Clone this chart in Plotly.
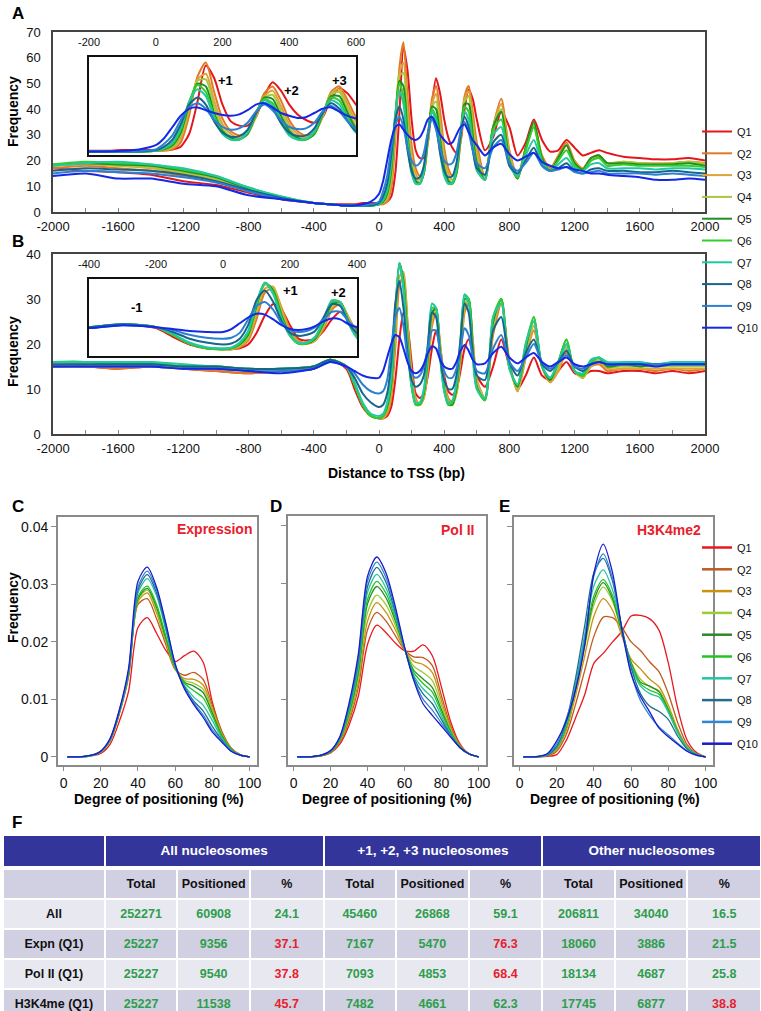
import numpy as np
import plotly.graph_objects as go

W, H = 761, 1011

# ---------------- data: panels A / B (distance to TSS) ----------------
QUANT = ['Q1', 'Q2', 'Q3', 'Q4', 'Q5', 'Q6', 'Q7', 'Q8', 'Q9', 'Q10']

X_TSS = [-2000, -1800, -1600, -1400, -1200, -1000, -800, -600, -400,
         -300, -200, -150, -100, -50, 0,
         25, 50, 75, 100, 125, 150, 175, 200,
         225, 250, 275, 300, 325, 350, 375, 400,
         425, 450, 475, 500, 525, 550, 575, 600,
         650, 700, 750, 800, 850, 900, 950, 1000,
         1050, 1100, 1150, 1200, 1250, 1300, 1350, 1400,
         1500, 1600, 1700, 1800, 1900, 2000]

A_Q1 = [17, 16, 15.5, 14.5, 12, 10.5, 7.5, 5, 3.5,
        3, 3, 3, 3.5, 3.5, 3.5,
        3.5, 4, 6, 15, 38, 64, 55, 36,
        24, 21, 21, 27, 42, 52, 46, 36,
        29, 25, 23, 27, 40, 47.5, 44, 36,
        24, 29, 39, 33, 22, 27, 36, 28,
        23.5, 24, 28, 25, 22, 23, 24, 23,
        21.5, 21, 20.5, 20.5, 21, 20]
A_Q2 = [17, 18, 17, 16, 14, 12, 8, 5.5, 3.5,
        3, 2.5, 2.5, 2.5, 2.5, 3,
        3, 4, 9, 28, 56, 66, 45, 26,
        17, 14, 16, 28, 44, 49, 39, 25,
        17, 14, 16, 28, 45, 49, 39, 27,
        14, 33, 44, 24, 14, 25, 34, 22,
        17, 22, 27, 20, 17, 21, 22, 19,
        19, 19, 18.5, 19, 19.5, 19]
A_Q3 = [18, 18.5, 18, 17, 15, 12.5, 8.5, 5.5, 3.5,
        3, 2.5, 2.5, 2.5, 2.5, 3,
        3.5, 5, 12, 32, 54, 58, 39, 22,
        15, 12.5, 15, 27, 42, 46, 35, 22,
        15, 12.5, 15, 27, 44, 47, 36, 24,
        13, 33, 42, 23, 13.5, 24, 33, 21,
        16.5, 21, 26, 19.5, 17, 20, 21.5, 19,
        19.5, 19, 19, 19, 19.5, 19]
A_Q4 = [18, 19, 18, 17.5, 15.5, 13, 9, 5.5, 3.5,
        3, 2.5, 2.5, 2.5, 2.5, 3,
        4, 6, 14, 34, 53, 54, 35, 19,
        13, 11.5, 15, 28, 41, 43, 32, 19,
        13, 11.5, 15, 28, 43, 45, 33, 21,
        12.5, 33, 40, 21, 13, 25, 34, 21,
        16, 21, 26, 19, 16.5, 20, 21, 19,
        19.5, 19, 18.5, 19, 19.5, 18.5]
A_Q5 = [18.5, 19, 18.5, 18, 16, 13.5, 9, 5.5, 3.5,
        3, 2.5, 2.5, 2.5, 2.5, 3,
        4, 7, 16, 36, 51, 49, 30, 17,
        12, 11, 15, 29, 41, 40, 28, 17,
        12, 11, 15, 29, 42, 42, 30, 19,
        12.5, 33, 39, 20, 13, 25, 35, 21,
        16, 21, 26, 19, 16.5, 21, 22, 19,
        19, 18.5, 18.5, 18.5, 19, 18]
A_Q6 = [18.5, 19.5, 19, 18.5, 16.5, 14, 9.5, 6, 3.5,
        3, 2.5, 2.5, 2.5, 2.5, 3,
        4.5, 8, 18, 38, 50, 45, 28, 16,
        11, 11, 16, 30, 40, 37, 25, 15,
        11, 11, 16, 30, 41, 39, 27, 17,
        12.5, 32, 36, 19, 13.5, 24, 33, 20,
        16, 20, 24, 18, 16, 20, 21, 18,
        18.5, 18, 18, 18, 18, 17.5]
A_Q7 = [18, 19, 19.5, 18.5, 17, 14, 9.5, 6, 3.5,
        3, 2.5, 2.5, 2.5, 2.5, 3,
        5, 9, 20, 38, 47, 42, 26, 15,
        11, 11, 16, 30, 39, 35, 23, 14,
        11, 11.5, 17, 30, 39, 36, 25, 16,
        12.5, 30, 33, 18, 14, 22, 28, 19,
        16, 18.5, 21, 17, 16, 18.5, 19, 17,
        17, 17, 16.5, 17, 17, 16.5]
A_Q8 = [16, 17, 16.5, 16, 14.5, 12, 8.5, 5.5, 3.5,
        3, 2.5, 2.5, 2.5, 2.5, 3.5,
        6, 11, 22, 36, 41, 36, 24, 16,
        13, 13.5, 18, 30, 37, 33, 23, 16,
        13.5, 14, 19, 30, 37, 33, 24, 17,
        14.5, 27, 30, 18, 15, 20, 25, 18,
        16, 17, 19, 16, 15, 16.5, 17, 16,
        16, 15.5, 15.5, 16, 15.5, 15]
A_Q9 = [15, 16, 15.5, 15, 13.5, 11.5, 8, 5, 3.5,
        3, 2.5, 2.5, 2.5, 3, 4,
        8, 14, 25, 34, 37, 33, 25, 20,
        18, 19, 23, 31, 36, 32, 25, 20,
        18.5, 19, 23, 31, 35, 31, 24, 19,
        17, 25, 28, 19, 16, 19, 23, 18,
        16, 16.5, 17.5, 15.5, 15, 15.5, 16, 15,
        15, 15, 14.5, 15, 14.5, 14]
A_Q10 = [14, 15, 13, 13, 11, 10, 6.5, 5, 3.5,
         3, 2.5, 2.5, 3, 4, 7,
         12, 20, 28, 33, 34, 32, 30, 28.5,
         28, 29, 32, 36, 37, 34, 30, 28,
         26.5, 27, 30, 33, 34, 31, 28, 26,
         22, 25, 26.5, 22.5, 20, 21.5, 23, 19.5,
         18, 17, 17.5, 16.5, 16, 15, 15, 14.5,
         14, 13.5, 12.5, 12.5, 13, 12.5]

B_Q1 = [15, 15, 14.5, 15, 14.5, 14, 13.5, 14, 14.5,
        16.5, 14.5, 10, 6, 4, 3.5,
        3.5, 4, 6, 12, 21, 27, 24, 16,
        9, 8, 9, 13, 19, 23, 19, 13,
        9.5, 8.7, 10, 14, 19, 21, 18, 13,
        10.5, 15, 21, 15, 10, 13, 17, 13,
        12, 14, 16, 13.5, 13, 14, 14, 13.5,
        14, 14, 13.5, 14, 13.5, 14]
B_Q2 = [15, 15, 14.5, 15, 14.5, 14, 13.5, 14, 14.5,
        16.5, 15, 11, 6.5, 4, 3.5,
        3.5, 4.5, 8, 19, 33, 35, 25, 14,
        8, 6.5, 8, 14, 24, 27, 20, 12,
        8, 7, 9, 16, 27, 29, 21, 12,
        8, 22, 29, 16, 9.5, 17, 23, 15,
        11.5, 14, 18, 14, 12.5, 15, 15.5, 14,
        14.5, 14.5, 14, 14.5, 14, 14.5]
B_Q3 = [15.5, 15, 15, 15, 15, 14.5, 14, 14, 14.5,
        16.5, 15, 11, 6.5, 4, 3.5,
        3.5, 5, 9, 22, 35, 36, 24, 13,
        7.5, 6.5, 8, 15, 25, 28, 20, 11.5,
        7.5, 6.5, 9, 17, 28, 30, 21, 12,
        8, 23, 30, 16, 9.5, 17, 24, 15,
        11.5, 14, 19, 14, 12.5, 15, 16, 14.5,
        14.5, 14.5, 14.5, 14.5, 14.5, 14.5]
B_Q4 = [16, 15.5, 15, 15.5, 15, 15, 14, 14.5, 15,
        16.5, 15, 11, 6.5, 4, 3.5,
        4, 5.5, 10, 24, 37, 35, 22, 12,
        7, 6.5, 8.5, 16, 26, 28, 19, 10.5,
        7, 6.5, 9.5, 18, 29, 30, 20, 11,
        8, 24, 30, 15, 10, 18, 25, 15,
        12, 15, 19.5, 14, 12.5, 15.5, 16.5, 15,
        15, 15, 15, 15, 15, 15]
B_Q5 = [16, 16, 15.5, 15.5, 15, 15, 14.5, 14.5, 15,
        16.5, 15, 11, 6.5, 4, 3.5,
        4, 6, 11, 26, 38, 34, 21, 11,
        6.5, 6.5, 9, 17, 27, 28, 18, 10,
        6.5, 6.5, 10, 19, 30, 30, 19, 10.5,
        7.5, 25, 30, 15, 10.5, 19, 26, 15,
        12, 16, 21, 14, 13, 16, 17, 15,
        15.5, 15, 15.5, 15.5, 15.5, 15.5]
B_Q6 = [16, 16, 15.5, 16, 15, 15, 14.5, 14.5, 15,
        16.5, 15, 11, 6.5, 4, 3.5,
        4, 6.5, 12, 27, 38, 33, 20, 10.5,
        6.5, 6.5, 9.5, 18, 28, 28, 17, 9.5,
        6.5, 7, 11, 20, 31, 30, 18, 10,
        7.5, 26, 30, 14.5, 11, 20, 26, 15,
        12.5, 16, 21, 14, 13, 16, 17, 15.5,
        15.5, 15.5, 15.5, 15.5, 15.5, 15.5]
B_Q7 = [16, 16, 16, 16, 15.5, 15, 14.5, 14.5, 15,
        16.5, 15, 11.5, 7, 4.5, 4,
        4.5, 7, 13, 28, 38, 32, 19, 10.5,
        7, 7, 10, 19, 29, 28, 17, 9.5,
        7, 7.5, 11.5, 21, 31, 29, 17, 10,
        8, 26, 29, 14.5, 11, 20, 25, 15,
        12.5, 16, 20, 14, 13.5, 16.5, 17, 16,
        16, 16, 15.5, 16, 16, 16]
B_Q8 = [15.5, 15.5, 15.5, 15.5, 15, 15, 14.5, 14.5, 15,
        16.5, 15, 12.5, 9, 7, 6,
        6.5, 9, 16, 29, 34, 28, 18, 12,
        10.5, 11, 13, 20, 27, 26, 17, 12,
        10, 10, 13, 21, 29, 27, 18, 13,
        12, 23, 26, 16, 13, 18, 21, 15.5,
        14, 16, 18.5, 15, 14, 15.5, 16, 15.5,
        15.5, 15.5, 15.5, 15.5, 15.5, 15.5]
B_Q9 = [15, 15, 15, 15, 14.5, 14.5, 14, 14, 14.5,
        16, 15, 13.5, 11, 9.5, 9,
        9.5, 12, 19, 26, 28, 24, 17, 13.5,
        12.5, 13, 15, 19, 23, 23, 18, 14,
        12.5, 12.5, 14.5, 19, 23.5, 22, 17, 14,
        13.5, 19, 22, 16, 14, 17, 20, 16,
        14.5, 16, 17.5, 15, 14.5, 15.5, 16, 15.5,
        15.5, 15.5, 15.5, 15.5, 15.5, 15.5]
B_Q10 = [15, 15, 15, 15, 14.5, 14.5, 14, 13.5, 14.5,
         16, 15, 14, 13, 12.5, 12.5,
         14, 17, 20, 22, 21.5, 19, 16, 14,
         13.5, 14, 15.5, 18, 19.5, 19, 16.5, 15,
         14.5, 14.5, 16, 18.5, 19.8, 18.5, 16.5, 15.5,
         15.7, 18, 19.4, 17, 15.7, 17, 18, 16,
         15, 16, 17, 15.5, 15, 15.5, 16, 15.5,
         15.5, 15.5, 15, 15.5, 15.5, 15.5]

A_SERIES = [A_Q1, A_Q2, A_Q3, A_Q4, A_Q5, A_Q6, A_Q7, A_Q8, A_Q9, A_Q10]
B_SERIES = [B_Q1, B_Q2, B_Q3, B_Q4, B_Q5, B_Q6, B_Q7, B_Q8, B_Q9, B_Q10]

# ---------------- data: panels C / D / E (degree of positioning) ----------------
# frequency values in units of 1e-3
X_POS = [2, 10, 15, 20, 25, 30, 35, 40, 45, 50, 55, 60, 65, 70, 75, 80, 85, 90, 95, 100]

C_Q1 = [0, 0.05, 0.2, 0.6, 2.2, 6.2, 11.5, 22.5, 24.2, 21.5, 18.5, 16.6, 17.6, 18.4, 16.5, 9.5, 4.4, 1.5, 0.35, 0]
C_Q2 = [0, 0.05, 0.25, 0.9, 2.8, 7.5, 14, 26.5, 27.5, 24, 19.5, 15.2, 14.2, 14.7, 13.5, 9.0, 4.5, 1.6, 0.4, 0]
C_Q3 = [0, 0.05, 0.25, 0.9, 2.8, 7.6, 14.2, 27, 28.5, 25, 20, 15.3, 13.6, 13.5, 12.5, 8.4, 4.2, 1.5, 0.35, 0]
C_Q4 = [0, 0.05, 0.25, 0.9, 2.9, 7.7, 14.4, 27.3, 29, 25.5, 20.3, 15.4, 13.3, 12.8, 11.8, 8.0, 4.0, 1.4, 0.3, 0]
C_Q5 = [0, 0.05, 0.25, 0.9, 2.9, 7.7, 14.5, 27.5, 29.3, 26, 20.6, 15.5, 13.0, 12.3, 11.2, 7.6, 3.8, 1.4, 0.3, 0]
C_Q6 = [0, 0.05, 0.25, 0.95, 3, 7.8, 14.6, 27.8, 29.7, 26.5, 21, 15.6, 12.8, 11.5, 10.3, 7.1, 3.6, 1.3, 0.3, 0]
C_Q7 = [0, 0.05, 0.25, 0.95, 3, 7.9, 14.8, 28.5, 31, 28, 22, 15.8, 12.4, 10.4, 9.0, 6.3, 3.3, 1.2, 0.3, 0]
C_Q8 = [0, 0.05, 0.3, 1, 3.1, 8, 15, 29, 31.7, 28.5, 22.5, 15.9, 12.2, 9.7, 8.0, 5.3, 3.0, 1.1, 0.3, 0]
C_Q9 = [0, 0.05, 0.3, 1, 3.1, 8, 15, 29.5, 32.3, 29, 23, 16.0, 12.0, 9.4, 7.3, 4.7, 2.8, 1.1, 0.3, 0]
C_Q10 = [0, 0.05, 0.3, 1, 3.2, 8.2, 15.5, 30.5, 33, 29.5, 23.2, 16.2, 11.8, 9.1, 6.9, 4.3, 2.6, 1.0, 0.3, 0]

D_Q1 = [0, 0.05, 0.2, 0.7, 2.2, 5.5, 10.5, 19.5, 22.8, 21.5, 19.7, 18.4, 18.3, 19.4, 17.5, 12, 6, 2.2, 0.5, 0]
D_Q2 = [0, 0.05, 0.2, 0.8, 2.5, 6.2, 12, 22, 25, 23.5, 21, 18.5, 17.3, 17.2, 15.8, 10.5, 5.3, 2, 0.5, 0]
D_Q3 = [0, 0.05, 0.25, 0.8, 2.7, 6.7, 13, 23.5, 26.7, 25, 22, 18.6, 16.5, 16, 14.6, 9.6, 4.9, 1.9, 0.5, 0]
D_Q4 = [0, 0.05, 0.25, 0.9, 2.9, 7.1, 13.8, 25, 28, 26.3, 22.8, 18.7, 15.7, 14.6, 13.2, 8.8, 4.6, 1.8, 0.5, 0]
D_Q5 = [0, 0.05, 0.25, 0.9, 3, 7.5, 14.5, 26.5, 29.5, 27.5, 23.5, 18.7, 15, 13.5, 12, 8.1, 4.3, 1.7, 0.5, 0]
D_Q6 = [0, 0.05, 0.25, 0.95, 3.1, 7.8, 15, 27.3, 30.4, 28.3, 24, 18.7, 14.6, 12.7, 11.2, 7.6, 4.1, 1.7, 0.5, 0]
D_Q7 = [0, 0.05, 0.3, 1, 3.2, 8.2, 15.7, 28.5, 31.6, 29.2, 24.5, 18.8, 14.1, 11.8, 10.2, 7, 3.9, 1.6, 0.5, 0]
D_Q8 = [0, 0.05, 0.3, 1, 3.3, 8.6, 16.5, 29.5, 32.8, 30.2, 25, 18.8, 13.7, 10.9, 9.2, 6.4, 3.7, 1.6, 0.5, 0]
D_Q9 = [0, 0.05, 0.3, 1.05, 3.4, 9, 17.2, 30.5, 33.7, 31, 25.5, 18.9, 13.4, 10, 8.1, 5.8, 3.6, 1.6, 0.5, 0]
D_Q10 = [0, 0.05, 0.3, 1.1, 3.5, 9.3, 17.8, 31.3, 34.6, 31.8, 26, 19, 13.2, 9.2, 7.2, 5.3, 3.4, 1.6, 0.5, 0]

E_Q1 = [0, 0, 0.1, 0.4, 2.8, 6.7, 10.8, 16.3, 18, 20, 21.8, 24.5, 24.6, 24, 22, 16.3, 8.5, 3, 0.8, 0]
E_Q2 = [0, 0.05, 0.2, 1, 3.8, 9, 15, 21, 24.3, 24.2, 22.5, 20, 18.5, 16.5, 14.8, 11, 6, 2.2, 0.6, 0]
E_Q3 = [0, 0.05, 0.3, 1.3, 4.5, 10.5, 17.5, 24.5, 27.5, 25.5, 21, 17, 15.3, 13.5, 12.2, 9, 4.8, 1.8, 0.5, 0]
E_Q4 = [0, 0.05, 0.35, 1.5, 5, 11.3, 19, 26.5, 29.5, 27, 21.5, 16.5, 13.5, 12.2, 11.5, 8.5, 4.5, 1.7, 0.5, 0]
E_Q5 = [0, 0.05, 0.35, 1.6, 5.2, 11.7, 19.6, 27.3, 30.3, 27.5, 21.7, 16.3, 13, 12.3, 11.3, 8.2, 4.4, 1.6, 0.5, 0]
E_Q6 = [0, 0.05, 0.35, 1.6, 5.3, 12, 20.2, 28, 30.8, 28, 22, 16.1, 12.7, 11.6, 10.9, 8, 4.3, 1.6, 0.5, 0]
E_Q7 = [0, 0.05, 0.4, 1.7, 5.6, 12.6, 21.2, 29.8, 32.5, 29, 22.3, 15.8, 12.3, 11, 10.4, 7.7, 4.2, 1.6, 0.5, 0]
E_Q8 = [0, 0.05, 0.4, 1.9, 6, 13.5, 22.8, 32, 34.5, 30.5, 22.5, 15.5, 11, 8.8, 7.9, 6.5, 3.6, 1.4, 0.4, 0]
E_Q9 = [0, 0.1, 0.5, 2.3, 6.5, 12, 20.5, 31.5, 35.3, 31, 22.3, 14.6, 9.8, 7.2, 5.2, 3.8, 2.4, 1.1, 0.3, 0]
E_Q10 = [0, 0.1, 0.6, 2.8, 6.2, 11.5, 19.4, 32, 37, 32, 22.2, 14.4, 10.5, 7.8, 5, 3.5, 2.2, 1, 0.3, 0]

C_SERIES = [C_Q1, C_Q2, C_Q3, C_Q4, C_Q5, C_Q6, C_Q7, C_Q8, C_Q9, C_Q10]
D_SERIES = [D_Q1, D_Q2, D_Q3, D_Q4, D_Q5, D_Q6, D_Q7, D_Q8, D_Q9, D_Q10]
E_SERIES = [E_Q1, E_Q2, E_Q3, E_Q4, E_Q5, E_Q6, E_Q7, E_Q8, E_Q9, E_Q10]

# ---------------- data: table F ----------------
GROUP_HEADERS = ['', 'All nucleosomes', '+1, +2, +3 nucleosomes', 'Other nucleosomes']
SUB_HEADERS = ['', 'Total', 'Positioned', '%', 'Total', 'Positioned', '%', 'Total', 'Positioned', '%']
ROW_LABELS = ['All', 'Expn (Q1)', 'Pol II (Q1)', 'H3K4me (Q1)']
TOTAL_ALL = [252271, 25227, 25227, 25227]
POS_ALL = [60908, 9356, 9540, 11538]
PCT_ALL = [24.1, 37.1, 37.8, 45.7]
TOTAL_123 = [45460, 7167, 7093, 7482]
POS_123 = [26868, 5470, 4853, 4661]
PCT_123 = [59.1, 76.3, 68.4, 62.3]
TOTAL_OTHER = [206811, 18060, 18134, 17745]
POS_OTHER = [34040, 3886, 4687, 6877]
PCT_OTHER = [16.5, 21.5, 25.8, 38.8]
RED_ALL = [False, True, True, True]
RED_123 = [False, True, True, False]
RED_OTHER = [False, False, False, True]

# ---------------- styling ----------------
COLORS_AB = ['#E3161C', '#E07A26', '#DDA43A', '#A9C83C', '#1F8F22', '#2ECF2E',
             '#22C8A2', '#17648C', '#2B80D2', '#1428E6']
COLORS_CE = ['#E8191E', '#C05A1E', '#C9920F', '#9CCB34', '#2A8A2A', '#22C422',
             '#26C4A4', '#216E8E', '#2F86D6', '#1B1BC8']
GREEN = '#2E9E4C'
RED = '#E8202A'
FONT = 'Liberation Sans'


def dx(a, b):
    return [a / W, b / W]


def dy(top, bottom):
    return [1 - bottom / H, 1 - top / H]


def hyph(vals):
    return [str(v) for v in vals]


fig = go.Figure()

# panel A / B main + insets
for series, xa, ya, show in [(A_SERIES, 'x', 'y', True), (A_SERIES, 'x2', 'y2', False),
                             (B_SERIES, 'x3', 'y3', False), (B_SERIES, 'x4', 'y4', False)]:
    for i, q in enumerate(QUANT):
        fig.add_trace(go.Scatter(x=X_TSS, y=series[i], mode='lines',
                                 line=dict(color=COLORS_AB[i], width=2, shape='spline', smoothing=0.7),
                                 name=q, legendgroup='ab' + q, legend='legend', showlegend=show,
                                 xaxis=xa, yaxis=ya))

# panels C / D / E
for series, xa, ya in [(C_SERIES, 'x5', 'y5'), (D_SERIES, 'x6', 'y6'), (E_SERIES, 'x7', 'y7')]:
    for i, q in enumerate(QUANT):
        fig.add_trace(go.Scatter(x=X_POS, y=np.array(series[i]) / 1000.0, mode='lines',
                                 line=dict(color=COLORS_CE[i], width=1.3, shape='spline', smoothing=0.8),
                                 name=q, legendgroup='ce' + q, showlegend=False,
                                 xaxis=xa, yaxis=ya))
# legend-only entries (thicker key lines) for the C-E legend
for i, q in enumerate(QUANT):
    fig.add_trace(go.Scatter(x=[None], y=[None], mode='lines', line=dict(color=COLORS_CE[i], width=2.5),
                             name=q, legendgroup='ce' + q, legend='legend2', showlegend=True,
                             xaxis='x5', yaxis='y5'))

# table F
HEAD_BLUE = '#33359A'
LIGHT = '#E8E8F1'
DARK = '#D0D0E2'
COLW_TOP = [101, 217, 217, 217]
COLW = [101, 72, 72, 73, 72, 72, 73, 72, 72, 73]
fig.add_trace(go.Table(
    domain=dict(x=[3 / W, 1.0], y=dy(835, 868)),
    columnwidth=COLW_TOP,
    header=dict(values=['<b>%s</b>' % g for g in GROUP_HEADERS], fill_color=HEAD_BLUE,
                line=dict(color='white', width=2), height=32, align='center',
                font=dict(color='white', size=13.5, family=FONT)),
    cells=dict(values=[[''], [''], [''], ['']], fill_color='white', line=dict(color='white', width=0),
               height=1, font=dict(size=1, color='white'))))


def fmt_col(vals, pct=False):
    return ['<b>%s</b>' % (('%.1f' % v) if pct else str(v)) for v in vals]


def col_colors(flags):
    return [RED if f else GREEN for f in flags]


cols = [['<b>%s</b>' % r for r in ROW_LABELS],
        fmt_col(TOTAL_ALL), fmt_col(POS_ALL), fmt_col(PCT_ALL, True),
        fmt_col(TOTAL_123), fmt_col(POS_123), fmt_col(PCT_123, True),
        fmt_col(TOTAL_OTHER), fmt_col(POS_OTHER), fmt_col(PCT_OTHER, True)]
no_red = [False] * 4
font_cols = [['#111111'] * 4,
             col_colors(no_red), col_colors(no_red), col_colors(RED_ALL),
             col_colors(no_red), col_colors(no_red), col_colors(RED_123),
             col_colors(no_red), col_colors(no_red), col_colors(RED_OTHER)]
row_fill = [LIGHT, DARK, LIGHT, DARK]
fig.add_trace(go.Table(
    domain=dict(x=[3 / W, 1.0], y=[0.0, 1 - 869 / H]),
    columnwidth=COLW,
    header=dict(values=['<b>%s</b>' % s for s in SUB_HEADERS], fill_color=DARK,
                line=dict(color='white', width=2), height=27, align='center',
                font=dict(color='#111111', size=12.5, family=FONT)),
    cells=dict(values=cols, fill_color=[row_fill] * 10, line=dict(color='white', width=2),
               height=26, align='center',
               font=dict(color=font_cols, size=[12.5] + [12.5] * 9, family=FONT))))

# ---------------- axes ----------------
main_tick = list(range(-2000, 2001, 200))
main_text = [str(v) if v % 400 == 0 else '' for v in main_tick]
frame = dict(showline=True, mirror=True, linecolor='#444444', linewidth=1.5,
             showgrid=False, zeroline=False)
tickfont = dict(family=FONT, size=13, color='#111111')
inset_font = dict(family=FONT, size=11, color='#111111')
inset_frame = dict(showline=True, mirror=True, linecolor='#111111', linewidth=1.5,
                   showgrid=False, zeroline=False)

layout_axes = dict(
    xaxis=dict(domain=dx(53, 705), range=[-2000, 2000], tickvals=main_tick, ticktext=main_text,
               ticks='inside', ticklen=4, tickcolor='#888888', tickfont=tickfont, anchor='y',
               ticklabelstandoff=2, **frame),
    yaxis=dict(domain=dy(32, 212), range=[0, 70], tickvals=list(range(0, 71, 10)),
               ticktext=hyph(range(0, 71, 10)), ticks='', tickfont=tickfont, anchor='x',
               ticklabelstandoff=8, **frame),
    xaxis2=dict(domain=dx(89, 356), range=[-200, 600], tickvals=[-200, 0, 200, 400, 600],
                ticktext=hyph([-200, 0, 200, 400, 600]),
                side='top', ticks='outside', ticklen=5, tickcolor='rgba(0,0,0,0)',
                tickfont=inset_font, anchor='y2', **inset_frame),
    yaxis2=dict(domain=dy(57, 155), range=[0, 70], showticklabels=False, ticks='', anchor='x2',
                **inset_frame),
    xaxis3=dict(domain=dx(53, 705), range=[-2000, 2000], tickvals=main_tick, ticktext=main_text,
                ticks='inside', ticklen=4, tickcolor='#888888', tickfont=tickfont, anchor='y3',
                ticklabelstandoff=2, **frame),
    yaxis3=dict(domain=dy(254, 434), range=[0, 40], tickvals=list(range(0, 41, 10)),
                ticktext=hyph(range(0, 41, 10)), ticks='', tickfont=tickfont, anchor='x3',
                ticklabelstandoff=8, **frame),
    xaxis4=dict(domain=dx(89, 357), range=[-400, 400], tickvals=[-400, -200, 0, 200, 400],
                ticktext=hyph([-400, -200, 0, 200, 400]),
                side='top', ticks='outside', ticklen=5, tickcolor='rgba(0,0,0,0)',
                tickfont=inset_font, anchor='y4', **inset_frame),
    yaxis4=dict(domain=dy(279, 356), range=[0, 40], showticklabels=False, ticks='', anchor='x4',
                **inset_frame),
)

ce_frame = dict(showline=True, mirror=True, linecolor='#8A8A8A', linewidth=1.8,
                showgrid=False, zeroline=False)
ce_font = dict(family=FONT, size=14, color='#111111')
y_ticks = [0, 0.01, 0.02, 0.03, 0.04]
for k, (xd, yd, labels) in enumerate([((58, 257), (517, 765), True),
                                      ((288, 486), (516, 765), False),
                                      ((514, 713), (517, 765), False)]):
    n = k + 5
    layout_axes['xaxis%d' % n] = dict(domain=dx(*xd), range=[-3, 104], tickvals=[0, 20, 40, 60, 80, 100],
                                      ticktext=hyph([0, 20, 40, 60, 80, 100]),
                                      ticks='outside', ticklen=4, tickcolor='#8A8A8A', tickfont=ce_font,
                                      anchor='y%d' % n, **ce_frame)
    layout_axes['yaxis%d' % n] = dict(domain=dy(*yd), range=[-0.0014, 0.0417], tickvals=y_ticks,
                                      ticktext=['0', '0.01', '0.02', '0.03', '0.04'] if labels else [''] * 5,
                                      ticks='outside', ticklen=5, tickcolor='#8A8A8A', tickfont=ce_font,
                                      anchor='x%d' % n, **ce_frame)


def ann(text, px, py, size=14, color='black', bold=True, xanchor='center', angle=0, family=FONT):
    return dict(text=('<b>%s</b>' % text) if bold else text, x=px / W, y=1 - py / H,
                xref='paper', yref='paper', showarrow=False, xanchor=xanchor, yanchor='middle',
                textangle=angle, font=dict(size=size, color=color, family=family))


annotations = [
    ann('A', 10, 14, 17, xanchor='left'), ann('B', 10, 242, 17, xanchor='left'),
    ann('C', 10, 506, 17, xanchor='left'), ann('D', 268, 506, 17, xanchor='left'),
    ann('E', 497, 506, 17, xanchor='left'), ann('F', 10, 822, 17, xanchor='left'),
    ann('Frequency', 13, 112, 14, angle=-90), ann('Frequency', 13, 352, 14, angle=-90),
    ann('Frequency', 13, 608, 14, angle=-90),
    ann('Distance to TSS (bp)', 396, 473, 14),
    ann('Degree of positioning (%)', 159, 799, 14),
    ann('Degree of positioning (%)', 387, 799, 14),
    ann('Degree of positioning (%)', 615, 799, 14),
    ann('Expression', 254, 529, 14, color=RED, xanchor='right'),
    ann('Pol II', 476, 530, 14, color=RED, xanchor='right'),
    ann('H3K4me2', 703, 530, 14, color=RED, xanchor='right'),
    ann('+1', 225, 81, 13), ann('+2', 291, 91, 13), ann('+3', 339, 80, 13),
    ann('-1', 137, 307, 13), ann('+1', 290, 290, 13), ann('+2', 338, 292, 13),
]

fig.update_layout(
    width=W, height=H, margin=dict(l=0, r=0, t=0, b=0, autoexpand=False),
    paper_bgcolor='white', plot_bgcolor='white',
    font=dict(family=FONT, size=12, color='#111111'),
    annotations=annotations,
    legend=dict(x=697 / W, xanchor='left', y=1 - 117 / H, yanchor='top', tracegroupgap=2.8,
                font=dict(family=FONT, size=11, color='#111111'), bgcolor='rgba(0,0,0,0)',
                itemclick=False),
    legend2=dict(x=697 / W, xanchor='left', y=1 - 533 / H, yanchor='top', tracegroupgap=2.8,
                 font=dict(family=FONT, size=11, color='#111111'), bgcolor='rgba(0,0,0,0)',
                 itemclick=False),
    **layout_axes
)

fig.write_html('out.html', config={'displayModeBar': False},
               post_script="document.body.style.margin='0px';document.body.style.padding='0px';")
